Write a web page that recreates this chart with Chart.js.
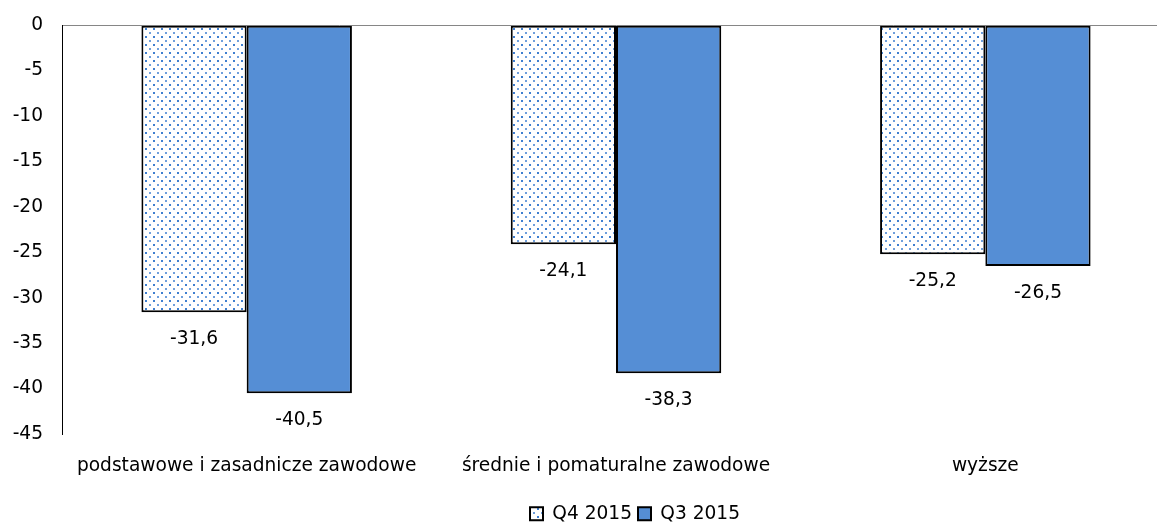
<!DOCTYPE html>
<html lang="pl">
<head>
<meta charset="UTF-8">
<title>Q4 vs Q3 2015</title>
<style>
    html, body { margin: 0; padding: 0; background: #fff; overflow: hidden; }
    #wrap { width: 1170px; height: 538px; margin-top: -5px; }
</style>
</head>
<body>
<div id="wrap"><canvas id="chart"></canvas></div>
<script src="https://cdn.jsdelivr.net/npm/chart.js"></script>
<script>
const categories = ['podstawowe i zasadnicze zawodowe', 'średnie i pomaturalne zawodowe', 'wyższe'];
const seriesNames = ['Q4 2015', 'Q3 2015'];
const q4Values = [-31.6, -24.1, -25.2];
const q3Values = [-40.5, -38.3, -26.5];
const yTicks = [0, -5, -10, -15, -20, -25, -30, -35, -40, -45];

const FONT = 'DejaVu Sans';
const FSIZE = 18.6;

// dotted fill for the Q4 series
function makeDots() {
    const c = document.createElement('canvas');
    c.width = 8; c.height = 8;
    const g = c.getContext('2d');
    g.fillStyle = '#fff';
    g.fillRect(0, 0, 8, 8);
    g.fillStyle = '#3f7fd0';
    g.fillRect(1, 1, 2, 2);
    g.fillStyle = '#6f9fdc';
    g.fillRect(5, 5, 2, 2);
    return g.createPattern(c, 'repeat');
}

const valueLabels = {
    id: 'valueLabels',
    afterDatasetsDraw(chart) {
        const ctx = chart.ctx;
        ctx.save();
        ctx.font = FSIZE + 'px "' + FONT + '"';
        ctx.fillStyle = '#000';
        ctx.textAlign = 'center';
        ctx.textBaseline = 'middle';
        chart.data.datasets.forEach((ds, i) => {
            chart.getDatasetMeta(i).data.forEach((bar, j) => {
                ctx.fillText(ds.data[j].toFixed(1).replace('.', ','), bar.x, bar.y + 27);
            });
        });
        ctx.restore();
    }
};

// the legend sits a bit right of centre in the original
const legendShift = {
    id: 'legendShift',
    afterLayout(chart) {
        chart.legend.left += 50;
        chart.legend.right += 50;
    }
};

new Chart(document.getElementById('chart'), {
    type: 'bar',
    data: {
        labels: categories,
        datasets: [{
            label: seriesNames[0],
            data: q4Values,
            backgroundColor: makeDots(),
            borderColor: '#000',
            borderWidth: 2,
            borderSkipped: false
        }, {
            label: seriesNames[1],
            data: q3Values,
            backgroundColor: '#558ed5',
            borderColor: '#000',
            borderWidth: 2,
            borderSkipped: false
        }]
    },
    options: {
        responsive: true,
        maintainAspectRatio: false,
        animation: false,
        layout: { padding: { top: 6, left: 0, right: 0, bottom: 0 } },
        datasets: { bar: { barPercentage: 1, categoryPercentage: 0.57 } },
        plugins: {
            legend: {
                position: 'bottom',
                labels: {
                    font: { family: FONT, size: FSIZE },
                    color: '#000',
                    boxWidth: 13,
                    boxHeight: 13,
                    padding: 6
                }
            },
            tooltip: { enabled: false }
        },
        scales: {
            x: {
                grid: { display: false, drawTicks: false },
                border: { display: false },
                ticks: { font: { family: FONT, size: FSIZE }, color: '#000', padding: 21, maxRotation: 0 }
            },
            y: {
                min: -45,
                max: 0,
                afterBuildTicks: axis => { axis.ticks = yTicks.map(v => ({ value: v })); },
                afterFit: axis => { axis.width = 62; },
                grid: {
                    drawTicks: false,
                    color: c => c.tick && c.tick.value === 0 ? '#868686' : 'transparent'
                },
                border: { display: true, color: '#000', width: 1 },
                ticks: { font: { family: FONT, size: FSIZE }, color: '#000', padding: 19 }
            }
        }
    },
    plugins: [valueLabels, legendShift]
});
</script>
</body>
</html>
